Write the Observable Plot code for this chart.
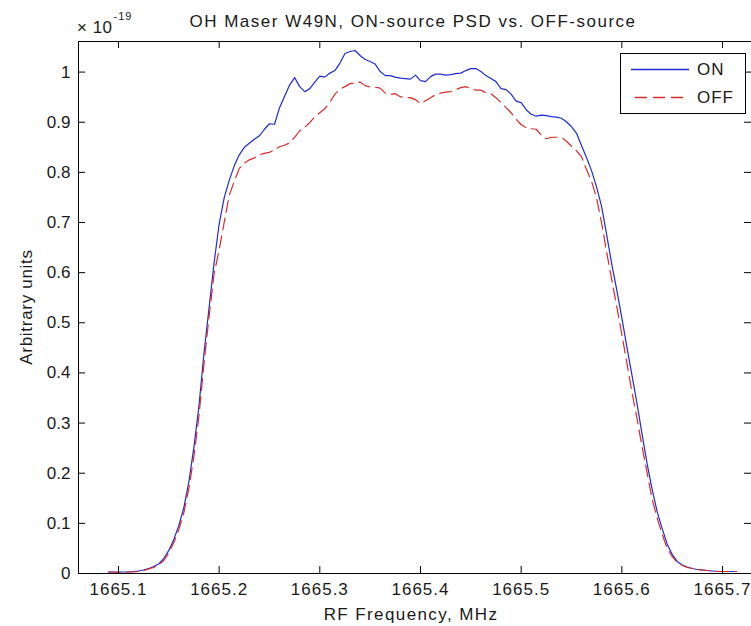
<!DOCTYPE html>
<html>
<head>
<meta charset="utf-8">
<script src="https://cdn.jsdelivr.net/npm/d3@7"></script>
<script src="https://cdn.jsdelivr.net/npm/@observablehq/plot@0.6"></script>
<style>
  html, body { margin: 0; padding: 0; background: #fff; }
  #chart { position: relative; width: 751px; height: 626px; overflow: hidden; }
</style>
</head>
<body>
<div id="chart"></div>
<script>
// ---------------- data ----------------
const freqMHz = [
  1665.090, 1665.095, 1665.100, 1665.105, 1665.110, 1665.115, 1665.120, 1665.125, 1665.130, 1665.135,
  1665.140, 1665.145, 1665.150, 1665.155, 1665.160, 1665.165, 1665.170, 1665.175, 1665.180, 1665.185,
  1665.190, 1665.195, 1665.200, 1665.205, 1665.210, 1665.215, 1665.220, 1665.225, 1665.230, 1665.235,
  1665.240, 1665.245, 1665.250, 1665.255, 1665.260, 1665.265, 1665.270, 1665.275, 1665.280, 1665.285,
  1665.290, 1665.295, 1665.300, 1665.305, 1665.310, 1665.315, 1665.320, 1665.325, 1665.330, 1665.335,
  1665.340, 1665.345, 1665.350, 1665.355, 1665.360, 1665.365, 1665.370, 1665.375, 1665.380, 1665.385,
  1665.390, 1665.395, 1665.400, 1665.405, 1665.410, 1665.415, 1665.420, 1665.425, 1665.430, 1665.435,
  1665.440, 1665.445, 1665.450, 1665.455, 1665.460, 1665.465, 1665.470, 1665.475, 1665.480, 1665.485,
  1665.490, 1665.495, 1665.500, 1665.505, 1665.510, 1665.515, 1665.520, 1665.525, 1665.530, 1665.535,
  1665.540, 1665.545, 1665.550, 1665.555, 1665.560, 1665.565, 1665.570, 1665.575, 1665.580, 1665.585,
  1665.590, 1665.595, 1665.600, 1665.605, 1665.610, 1665.615, 1665.620, 1665.625, 1665.630, 1665.635,
  1665.640, 1665.645, 1665.650, 1665.655, 1665.660, 1665.665, 1665.670, 1665.675, 1665.680, 1665.685,
  1665.690, 1665.695, 1665.700, 1665.705, 1665.710, 1665.714
];
// values in units of 1e-19
const onSource = [
  0.003, 0.003, 0.003, 0.003, 0.003, 0.004, 0.005, 0.007, 0.010, 0.014,
  0.019, 0.030, 0.046, 0.068, 0.096, 0.132, 0.184, 0.253, 0.335, 0.440,
  0.530, 0.620, 0.697, 0.749, 0.784, 0.813, 0.835, 0.850, 0.858, 0.866,
  0.873, 0.886, 0.897, 0.896, 0.929, 0.952, 0.974, 0.989, 0.971, 0.961,
  0.967, 0.980, 0.992, 0.990, 0.998, 1.003, 1.018, 1.037, 1.041, 1.043,
  1.033, 1.025, 1.021, 1.016, 1.001, 0.993, 0.993, 0.990, 0.988, 0.987,
  0.986, 0.994, 0.983, 0.981, 0.991, 0.996, 0.996, 0.994, 0.995, 0.997,
  0.998, 1.003, 1.007, 1.007, 1.001, 0.993, 0.987, 0.981, 0.967, 0.965,
  0.956, 0.942, 0.939, 0.925, 0.916, 0.912, 0.914, 0.913, 0.911, 0.910,
  0.908, 0.901, 0.891, 0.878, 0.853, 0.829, 0.803, 0.770, 0.731, 0.675,
  0.617, 0.565, 0.510, 0.452, 0.396, 0.340, 0.279, 0.220, 0.169, 0.124,
  0.090, 0.059, 0.038, 0.024, 0.017, 0.013, 0.010, 0.008, 0.007, 0.006,
  0.005, 0.004, 0.004, 0.004, 0.004, 0.004
];
const offSource = [
  0.003, 0.003, 0.002, 0.003, 0.003, 0.003, 0.004, 0.006, 0.009, 0.012,
  0.017, 0.026, 0.041, 0.062, 0.088, 0.122, 0.170, 0.235, 0.315, 0.420,
  0.512, 0.598, 0.645, 0.700, 0.754, 0.782, 0.808, 0.818, 0.825, 0.829,
  0.835, 0.838, 0.840, 0.845, 0.851, 0.854, 0.859, 0.870, 0.883, 0.890,
  0.899, 0.911, 0.919, 0.927, 0.940, 0.956, 0.966, 0.971, 0.977, 0.978,
  0.980, 0.973, 0.970, 0.970, 0.968, 0.958, 0.955, 0.957, 0.951, 0.949,
  0.949, 0.945, 0.937, 0.943, 0.949, 0.955, 0.958, 0.960, 0.961, 0.965,
  0.969, 0.971, 0.967, 0.964, 0.964, 0.959, 0.957, 0.949, 0.939, 0.929,
  0.919, 0.906, 0.895, 0.889, 0.887, 0.886, 0.874, 0.867, 0.870, 0.870,
  0.870, 0.862, 0.852, 0.843, 0.831, 0.805, 0.782, 0.748, 0.698, 0.640,
  0.586, 0.532, 0.477, 0.420, 0.362, 0.310, 0.254, 0.202, 0.149, 0.111,
  0.079, 0.050, 0.034, 0.022, 0.016, 0.012, 0.010, 0.008, 0.007, 0.006,
  0.005, 0.004, 0.004, 0.004, 0.004, 0.004
];
const xTicks = [1665.1, 1665.2, 1665.3, 1665.4, 1665.5, 1665.6, 1665.7];
const xTickLabels = ["1665.1", "1665.2", "1665.3", "1665.4", "1665.5", "1665.6", "1665.7"];
const yTicks = [0, 0.1, 0.2, 0.3, 0.4, 0.5, 0.6, 0.7, 0.8, 0.9, 1];
const yTickLabels = ["0", "0.1", "0.2", "0.3", "0.4", "0.5", "0.6", "0.7", "0.8", "0.9", "1"];
const seriesNames = ["ON", "OFF"];
const titleText = "OH Maser W49N, ON-source PSD vs. OFF-source";
const xLabel = "RF Frequency, MHz";
const yLabel = "Arbitrary units";
const xDomain = [1665.0603, 1665.7288];
const yDomain = [0, 1.061];

// ---------------- chart ----------------
const rows = freqMHz.map((f, i) => ({f, on: onSource[i], off: offSource[i]}));
const FONT = "'Liberation Sans', Arial, Helvetica, sans-serif";
const INK = "#1a1a1a";
const BLUE = "#1f2bd6", RED = "#dc2a2a";
const W = 751, H = 626, mL = 78, mR = 0, mT = 41, mB = 53;
const fw = W - mL - mR, fh = H - mT - mB, tk = 7;

const chart = Plot.plot({
  width: W, height: H,
  marginLeft: mL, marginRight: mR, marginTop: mT, marginBottom: mB,
  style: {fontFamily: FONT, fontSize: "17px", color: INK, background: "#fff"},
  x: {domain: xDomain},
  y: {domain: yDomain},
  marks: [
    Plot.line(rows, {x: "f", y: "on", stroke: BLUE, strokeWidth: 1.2}),
    Plot.line(rows, {x: "f", y: "off", stroke: RED, strokeWidth: 1.2, strokeDasharray: "12,6"}),
    Plot.ruleY([yDomain[0]], {stroke: "#000"}),
    Plot.ruleY([yDomain[1]], {stroke: "#000"}),
    Plot.ruleX([xDomain[0]], {stroke: "#000"}),
    Plot.tickX(xTicks, {x: d => d, insetTop: fh - tk, stroke: "#000"}),
    Plot.tickX(xTicks, {x: d => d, insetBottom: fh - tk, stroke: "#000"}),
    Plot.tickY(yTicks, {y: d => d, insetRight: fw - tk, stroke: "#000"}),
    Plot.tickY(yTicks, {y: d => d, insetLeft: fw - tk, stroke: "#000"}),
    Plot.axisX(xTicks, {tickSize: 0, tickPadding: 9, tickFormat: (d, i) => xTickLabels[i], label: null, fontSize: 17, fill: INK}),
    Plot.axisY(yTicks, {tickSize: 0, tickPadding: 8, tickFormat: (d, i) => yTickLabels[i], label: null, fontSize: 17, fill: INK})
  ]
});
document.getElementById("chart").appendChild(chart);
// wide, MATLAB-like spacing for the x tick labels
d3.select(chart).selectAll("g[aria-label='x-axis tick label'] text").attr("letter-spacing", 1);

// ---------------- annotations ----------------
const svg = d3.select(chart);
const ann = svg.append("g").attr("font-family", FONT).attr("fill", INK).attr("font-size", 17);

ann.append("text").attr("x", 413).attr("y", 21).attr("text-anchor", "middle")
  .attr("dominant-baseline", "central").attr("letter-spacing", 1.5).text(titleText);

ann.append("text").attr("x", 411).attr("y", 614).attr("text-anchor", "middle")
  .attr("dominant-baseline", "central").attr("letter-spacing", 1.4).text(xLabel);

ann.append("text").attr("transform", "translate(26,307) rotate(-90)").attr("text-anchor", "middle")
  .attr("dominant-baseline", "central").attr("letter-spacing", 0.7).text(yLabel);

const exp = ann.append("text").attr("x", 77).attr("y", 33).attr("text-anchor", "start");
exp.append("tspan").attr("letter-spacing", 0.5).text("\u00d7 10");
exp.append("tspan").attr("dx", 1).attr("dy", -13).attr("font-size", 11).attr("letter-spacing", 1).text("-19");

// legend
const lg = svg.append("g").attr("font-family", FONT).attr("font-size", 17);
lg.append("rect").attr("x", 620.5).attr("y", 53.5).attr("width", 125).attr("height", 60)
  .style("fill", "#fff").style("stroke", "#000").style("stroke-width", 1);
const legendStyles = [
  {stroke: BLUE, dash: null, y: 69.5},
  {stroke: RED, dash: "12,6", y: 97.5}
];
seriesNames.forEach((name, i) => {
  const s = legendStyles[i];
  const l = lg.append("line").attr("x1", 631).attr("x2", 689).attr("y1", s.y).attr("y2", s.y)
    .style("stroke", s.stroke).style("stroke-width", 1.3).style("fill", "none");
  if (s.dash) l.style("stroke-dasharray", s.dash).style("stroke-dashoffset", -4);
  lg.append("text").attr("x", 697).attr("y", s.y).attr("text-anchor", "start")
    .attr("dominant-baseline", "central").attr("letter-spacing", 1)
    .style("fill", INK).text(name);
});
</script>
</body>
</html>
